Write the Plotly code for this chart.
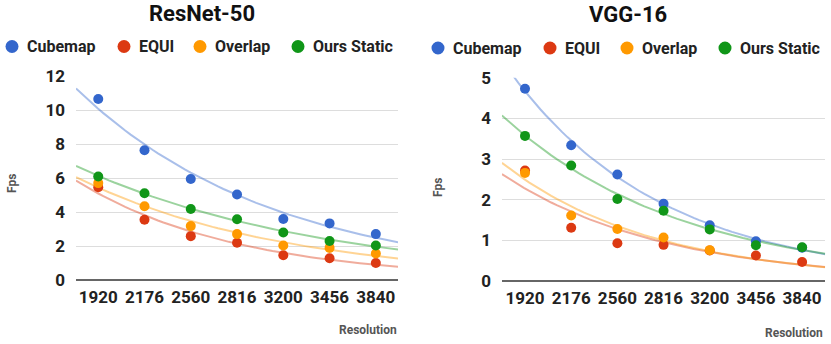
import numpy as np
import plotly.graph_objects as go

resolutions = ["1920", "2176", "2560", "2816", "3200", "3456", "3840"]
series_names = ["Cubemap", "EQUI", "Overlap", "Ours Static"]
colors = ["#3366CC", "#DC3912", "#FF9900", "#109618"]

# ResNet-50 fps
resnet_cubemap = [10.65, 7.63, 5.94, 5.03, 3.59, 3.33, 2.70]
resnet_equi = [5.46, 3.55, 2.58, 2.19, 1.46, 1.28, 1.00]
resnet_overlap = [5.70, 4.34, 3.17, 2.70, 2.03, 1.89, 1.56]
resnet_static = [6.09, 5.10, 4.18, 3.57, 2.80, 2.29, 2.03]

# VGG-16 fps
vgg_cubemap = [4.73, 3.34, 2.62, 1.90, 1.37, 0.98, 0.82]
vgg_equi = [2.72, 1.31, 0.93, 0.89, 0.75, 0.63, 0.47]
vgg_overlap = [2.66, 1.61, 1.28, 1.07, 0.76, None, None]
vgg_static = [3.57, 2.84, 2.02, 1.73, 1.27, 0.88, 0.83]

resnet = [resnet_cubemap, resnet_equi, resnet_overlap, resnet_static]
vgg = [vgg_cubemap, vgg_equi, vgg_overlap, vgg_static]

FONT = "Roboto"
W, H = 831, 344


def hex_rgba(h, a):
    h = h.lstrip("#")
    return "rgba(%d,%d,%d,%.2f)" % (int(h[0:2], 16), int(h[2:4], 16), int(h[4:6], 16), a)


def exp_trend(values, x_lo, x_hi):
    # exponential trendline y = a*exp(b*x) fitted to the points
    x = np.array([i for i, v in enumerate(values) if v is not None], dtype=float)
    y = np.array([v for v in values if v is not None], dtype=float)
    b, ln_a = np.polyfit(x, np.log(y), 1, w=np.sqrt(y))
    xs = np.linspace(x_lo, x_hi, 60)
    return xs, np.exp(ln_a) * np.exp(b * xs)


fig = go.Figure()

panels = [(resnet, "x", "y", [-0.48, 6.48]), (vgg, "x2", "y2", [-0.5, 6.5])]
for data, xa, ya, xr in panels:
    for name, vals, col in zip(series_names, data, colors):
        tx, ty = exp_trend(vals, xr[0], xr[1])
        fig.add_trace(go.Scatter(x=tx, y=ty, mode="lines", xaxis=xa, yaxis=ya,
                                 line=dict(color=hex_rgba(col, 0.42), width=2),
                                 showlegend=False, hoverinfo="skip"))
    for name, vals, col in zip(series_names, data, colors):
        fig.add_trace(go.Scatter(x=list(range(len(resolutions))), y=vals, mode="markers",
                                 name=name, xaxis=xa, yaxis=ya,
                                 marker=dict(color=col, size=10),
                                 showlegend=False))

tick_font = dict(family=FONT, size=17, color="#222222", weight="bold")
axis_common = dict(tickmode="array", tickvals=list(range(len(resolutions))),
                   ticktext=resolutions, showgrid=False, zeroline=False,
                   tickfont=tick_font, ticks="", ticklabelstandoff=5, automargin=False)
yaxis_common = dict(gridcolor="#dddddd", zeroline=True, zerolinecolor="#666666",
                    zerolinewidth=2, tickfont=tick_font, ticklabelstandoff=10,
                    automargin=False)
fig.update_layout(
    width=W, height=H,
    margin=dict(l=0, r=0, t=0, b=0),
    paper_bgcolor="white", plot_bgcolor="white",
    font=dict(family=FONT),
    showlegend=False,
    xaxis=dict(domain=[0.0915, 0.479], range=[-0.48, 6.48], anchor="y", **axis_common),
    xaxis2=dict(domain=[0.604, 0.993], range=[-0.5, 6.5], anchor="y2", **axis_common),
    yaxis=dict(domain=[0.186, 0.779], range=[0, 12], tickvals=[0, 2, 4, 6, 8, 10, 12],
               anchor="x", **yaxis_common),
    yaxis2=dict(domain=[0.183, 0.774], range=[0, 5], tickvals=[0, 1, 2, 3, 4, 5],
                anchor="x2", **yaxis_common),
)

# legend rows drawn as circles + labels, one row above each panel
legend_font = dict(family=FONT, size=16, color="#222222", weight="bold")
legend_rows = [
    (46.5, [12, 124, 200, 298]),
    (48, [438, 550, 627, 725]),
]
for ly, xs in legend_rows:
    for name, col, cx in zip(series_names, colors, xs):
        fig.add_shape(type="circle", xref="paper", yref="paper",
                      xsizemode="pixel", ysizemode="pixel",
                      xanchor=cx / W, yanchor=1 - ly / H,
                      x0=-6.5, x1=6.5, y0=-6.5, y1=6.5,
                      fillcolor=col, line=dict(width=0))
        fig.add_annotation(text=name, xref="paper", yref="paper", showarrow=False,
                           x=(cx + 13) / W, y=1 - ly / H, xanchor="left", yanchor="middle",
                           font=legend_font)

title_font = dict(family=FONT, size=22, color="#111111", weight="bold")
label_font = dict(family=FONT, size=12, color="#555555", weight="bold")
annots = [
    dict(text="ResNet-50", x=202 / W, y=1 - 14 / H, font=title_font),
    dict(text="VGG-16", x=628 / W, y=1 - 15 / H, font=title_font),
    dict(text="Fps", x=12 / W, y=1 - 183 / H, font=label_font, textangle=-90),
    dict(text="Fps", x=438 / W, y=1 - 187 / H, font=label_font, textangle=-90),
    dict(text="Resolution", x=368 / W, y=1 - 330 / H, font=label_font),
    dict(text="Resolution", x=794 / W, y=1 - 333 / H, font=label_font),
]
for a in annots:
    fig.add_annotation(xref="paper", yref="paper", showarrow=False,
                       xanchor="center", yanchor="middle", **a)

fig.write_html("out.html", config={"displayModeBar": False},
               post_script="document.body.style.margin='0';")
